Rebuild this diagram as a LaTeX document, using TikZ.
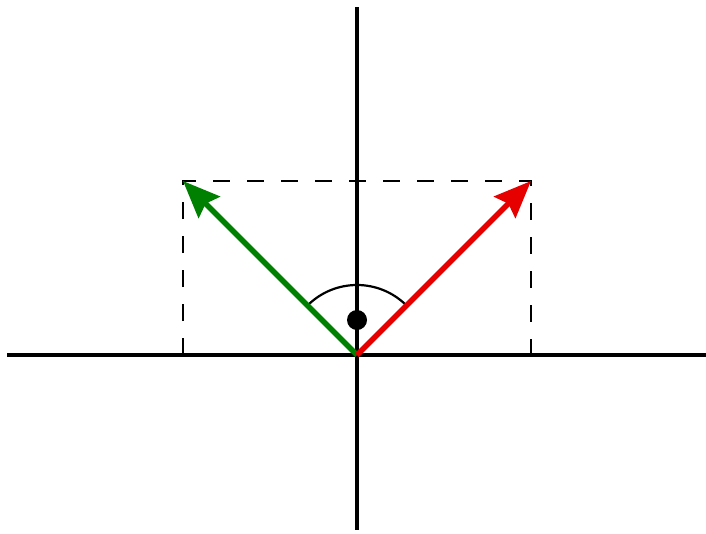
\documentclass[tikz,border=0pt]{standalone}
\usetikzlibrary{arrows.meta}
\definecolor{vgreen}{RGB}{0,128,0}
\definecolor{vred}{RGB}{230,0,0}
\tikzset{
  axis/.style={line width=4.2pt},
  vec/.style={line width=5.5pt,-{Stealth[length=37pt,width=30pt,inset=5pt]}},
  guide/.style={line width=2.2pt,dash pattern=on 17pt off 17pt},
  anglearc/.style={line width=2.2pt}
}
\begin{document}
\begin{tikzpicture}[x=1pt,y=-1pt]
\useasboundingbox (0,0) rectangle (706,533);
\coordinate (O) at (357,355);
\coordinate (L) at (7,355);
\coordinate (R) at (706,355);
\coordinate (T) at (357,7);
\coordinate (B) at (357,530);
\coordinate (P) at (531,181);
\coordinate (Q) at (183,181);
\coordinate (Px) at (531,355);
\coordinate (Qx) at (183,355);
\coordinate (A1) at (406.5,305.5);
\draw[guide] (Qx) -- (Q) -- (P) -- (Px);
\draw[axis] (L) -- (R);
\draw[axis] (T) -- (B);
\draw[anglearc] (A1) arc[start angle=-45,end angle=-135,radius=70];
\fill (357,320) circle[radius=10];
\draw[vec,vgreen] (O) -- (Q);
\draw[vec,vred] (O) -- (P);
\end{tikzpicture}
\end{document}
